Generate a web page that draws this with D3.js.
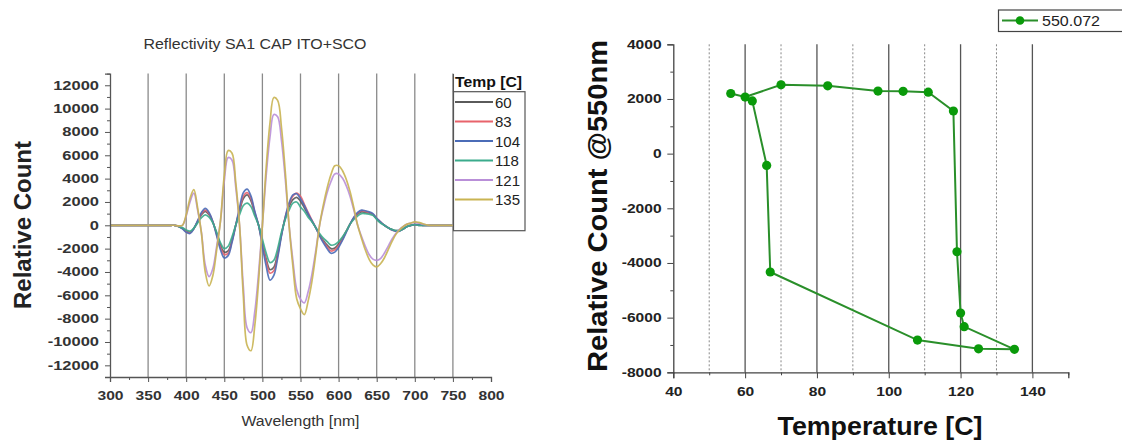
<!DOCTYPE html>
<html><head><meta charset="utf-8">
<script src="https://cdn.jsdelivr.net/npm/d3@7"></script>
<style>
body{margin:0;background:#fff}
svg{display:block;background:#fff}
text{font-family:"Liberation Sans",Arial,sans-serif}
</style>
</head><body>
<svg id="c" width="1122" height="442"></svg>
<script>
// ---------------- DATA ----------------
const wavelengths = [300,350,380,385,390,395,400,405,410,415,
  420,425,430,435,440,445,450,455,460,465,
  470,475,480,485,490,495,500,505,510,515,
  520,525,530,535,540,545,550,555,560,565,
  570,575,580,585,590,595,600,605,610,615,
  620,625,630,635,640,645,650,655,660,665,
  670,675,680,685,690,695,700,705,710,715,
  720,730,750];

const spec60 = [0,0,0,0,-100,-250,-500,-600,-250,300,
  900,1200,900,250,-700,-1700,-2300,-2200,-1300,0,
  1200,2300,2600,2100,1000,0,-1500,-2900,-3800,-3600,
  -2400,-800,600,1600,2200,2400,2070,1500,900,350,
  -200,-800,-1300,-1700,-2000,-1950,-1600,-1100,-500,100,
  600,950,1150,1100,1050,900,550,250,0,-200,
  -350,-450,-450,-300,-100,0,50,0,0,0,
  0,0,0];
const spec83 = [0,0,0,0,-100,-250,-550,-650,-300,350,
  1000,1300,1000,300,-800,-1900,-2500,-2400,-1400,0,
  1300,2500,2800,2300,1100,0,-1600,-3100,-4100,-3900,
  -2600,-800,700,1800,2500,2750,2480,1800,1100,450,
  -200,-850,-1400,-1850,-2200,-2100,-1750,-1200,-550,100,
  650,1050,1250,1200,1100,950,600,300,0,-200,
  -400,-500,-450,-300,-100,0,50,50,0,0,
  0,0,0];
const spec104 = [0,0,0,0,-100,-300,-600,-700,-300,400,
  1100,1450,1100,300,-900,-2100,-2800,-2600,-1500,0,
  1500,2800,3100,2500,1200,0,-1800,-3500,-4700,-4300,
  -2800,-900,700,1900,2600,2700,2280,1700,1000,400,
  -200,-900,-1500,-2000,-2400,-2300,-1900,-1300,-600,100,
  700,1100,1300,1250,1150,1000,600,300,0,-200,
  -400,-500,-500,-300,-100,0,50,50,0,0,
  0,0,0];
const spec118 = [0,0,0,0,-100,-200,-400,-500,-250,200,
  650,900,700,200,-600,-1500,-2000,-1800,-1000,0,
  900,1700,1900,1600,800,0,-1200,-2400,-3200,-3000,
  -2000,-600,500,1300,1900,2000,1560,1200,700,300,
  -200,-700,-1100,-1400,-1700,-1650,-1400,-1000,-500,100,
  500,800,1000,1000,950,850,500,200,0,-200,
  -350,-450,-450,-300,-100,0,50,0,0,0,
  0,0,0];
const spec121 = [0,0,0,0,-50,0,800,2000,2750,1300,
  -600,-3400,-4400,-3700,-1800,350,3800,5800,5600,3300,
  0,-5300,-8800,-9200,-7400,-4100,0,4300,7600,9500,
  9300,7300,4000,0,-3000,-5500,-6330,-6650,-5700,-4200,
  -2200,0,1500,2800,3750,4400,4400,4050,3400,2500,
  1300,0,-950,-1800,-2500,-2900,-3000,-2850,-2400,-1800,
  -1200,-700,-350,-100,100,200,250,200,100,50,
  0,0,0];
const spec135 = [0,0,0,0,-50,0,900,2300,3050,1500,
  -700,-4000,-5200,-4300,-2100,400,4300,6400,6200,3700,
  0,-6100,-10300,-10750,-8600,-4800,0,5000,8800,10950,
  10700,8400,4600,0,-3500,-6300,-7160,-7650,-6500,-4800,
  -2500,0,1750,3200,4350,5100,5100,4700,3950,2900,
  1500,0,-1100,-2100,-2900,-3400,-3570,-3300,-2800,-2100,
  -1400,-800,-400,-100,100,200,300,250,150,50,
  0,0,0];

const tempLabels = ["60","83","104","118","121","135"];
const tempColors = ["#5a5a5a","#e8636b","#4b6cb7","#3bab8c","#b98fd8","#c9b452"];
const spectra = [spec60, spec83, spec104, spec118, spec121, spec135];

const leftXTicks = [300,350,400,450,500,550,600,650,700,750,800];
const leftYTicks = [-12000,-10000,-8000,-6000,-4000,-2000,0,2000,4000,6000,8000,10000,12000];
const leftGrid = [350,400,450,500,550,600,650,700,750];

// hysteresis data at 550 nm
const hysTemp  = [56,60,70,83,97,104,111,118,119,120,121,135,125,108,67,66,62];
const hysCount = [2200,2070,2520,2480,2290,2280,2250,1560,-3590,-5830,-6330,-7160,-7140,-6820,-4330,-430,1930];
const rightXTicks = [40,60,80,100,120,140];
const rightYTicks = [-8000,-6000,-4000,-2000,0,2000,4000];
const rightGridSolid = [60,80,100,120,140];
const rightGridDash = [50,70,90,110,130];
const seriesName = "550.072";

// ---------------- DRAW ----------------
const svg = d3.select("#c");
svg.append("rect").attr("width",1122).attr("height",442).attr("fill","#fff");

// ===== LEFT CHART =====
const L = svg.append("g");
const xL = d3.scaleLinear().domain([300,800]).range([110,491]);
const yL = d3.scaleLinear().domain([-13000,13000]).range([377,73.6]);

L.selectAll("line.grid").data(leftGrid).join("line")
  .attr("x1",d=>xL(d)).attr("x2",d=>xL(d)).attr("y1",73.6).attr("y2",377)
  .attr("stroke","#8a8a8a").attr("stroke-width",1.3);

const lineL = d3.line().x((d,i)=>xL(wavelengths[i])).y(d=>yL(d)).curve(d3.curveCatmullRom.alpha(0.5));
spectra.forEach((s,k)=>{
  L.append("path").datum(s).attr("d",lineL).attr("fill","none")
   .attr("stroke",tempColors[k]).attr("stroke-width",1.7).attr("stroke-opacity",0.9);
});

function stretchTicks(g, sx){
  g.selectAll(".tick text").attr("transform",`scale(${sx},1)`);
}
const axLX = L.append("g").attr("transform","translate(0,377)")
  .call(d3.axisBottom(xL).tickValues(leftXTicks).tickSize(5).tickPadding(9).tickFormat(d=>String(d)));
L.append("g").attr("transform","translate(0,377)")
  .call(d3.axisBottom(xL).tickValues(d3.range(325,800,50)).tickSize(3).tickFormat(""))
  .call(g=>g.select(".domain").remove());
const axLY = L.append("g").attr("transform","translate(110,0)")
  .call(d3.axisLeft(yL).tickValues(leftYTicks).tickSize(5).tickPadding(3.3).tickFormat(d=>String(d)));
L.append("g").attr("transform","translate(110,0)")
  .call(d3.axisLeft(yL).tickValues(d3.range(-13000,13001,2000)).tickSize(3).tickFormat(""))
  .call(g=>g.select(".domain").remove());
[axLX,axLY].forEach(g=>{
  g.select(".domain").attr("stroke","#555").attr("stroke-width",1.3);
  g.selectAll(".tick text").attr("font-size",12.5).attr("font-weight","bold").attr("fill","#333");
});
L.selectAll(".tick line").attr("stroke","#555");
L.selectAll("path.domain").attr("stroke","#555");
stretchTicks(axLX,1.25); stretchTicks(axLY,1.32);

L.append("text").attr("x",255).attr("y",49).attr("text-anchor","middle")
  .attr("font-size",14).attr("fill","#333").attr("textLength",223).attr("lengthAdjust","spacingAndGlyphs")
  .text("Reflectivity SA1 CAP ITO+SCO");
L.append("text").attr("x",300.5).attr("y",426).attr("text-anchor","middle")
  .attr("font-size",14).attr("fill","#333").attr("textLength",118).attr("lengthAdjust","spacingAndGlyphs")
  .text("Wavelength [nm]");
L.append("text").attr("transform","translate(31,225) rotate(-90)").attr("text-anchor","middle")
  .attr("font-size",24).attr("font-weight","bold").attr("fill","#222")
  .attr("textLength",168).attr("lengthAdjust","spacingAndGlyphs")
  .text("Relative Count");

// legend
const lg = L.append("g");
lg.append("rect").attr("x",453.5).attr("y",91.7).attr("width",71.5).attr("height",139)
  .attr("fill","#fff").attr("stroke","#555").attr("stroke-width",1.2);
lg.append("line").attr("x1",453.5).attr("x2",453.5).attr("y1",74).attr("y2",92)
  .attr("stroke","#555").attr("stroke-width",1.2);
lg.append("rect").attr("x",454.2).attr("y",74).attr("width",70).attr("height",17).attr("fill","#fff");
lg.append("text").attr("x",455).attr("y",86.5).attr("font-size",14).attr("font-weight","bold")
  .attr("fill","#111").attr("textLength",67).attr("lengthAdjust","spacingAndGlyphs").text("Temp [C]");
tempLabels.forEach((t,i)=>{
  const yy = 102 + i*19.5;
  lg.append("line").attr("x1",455).attr("x2",493).attr("y1",yy).attr("y2",yy)
    .attr("stroke",tempColors[i]).attr("stroke-width",2);
  lg.append("text").attr("x",495).attr("y",yy+5.5).attr("font-size",15).attr("fill","#222").text(t);
});

// ===== RIGHT CHART =====
const R = svg.append("g");
const xR = d3.scaleLinear().domain([40,150]).range([673.3,1068.3]);
const yR = d3.scaleLinear().domain([-8000,4000]).range([372.3,44.3]);

R.selectAll("line.gs").data(rightGridSolid).join("line")
  .attr("x1",d=>xR(d)).attr("x2",d=>xR(d)).attr("y1",44.3).attr("y2",372.3)
  .attr("stroke","#555").attr("stroke-width",1.3);
R.selectAll("line.gd").data(rightGridDash).join("line")
  .attr("x1",d=>xR(d)).attr("x2",d=>xR(d)).attr("y1",44.3).attr("y2",372.3)
  .attr("stroke","#888").attr("stroke-width",1).attr("stroke-dasharray","2,2");

const axRX = R.append("g").attr("transform","translate(0,372.3)")
  .call(d3.axisBottom(xR).tickValues(rightXTicks).tickSize(6).tickPadding(9).tickFormat(d=>String(d)));
R.append("g").attr("transform","translate(0,372.3)")
  .call(d3.axisBottom(xR).tickValues([50,70,90,110,130,150]).tickSize(3).tickFormat(""))
  .call(g=>g.select(".domain").remove());
const axRY = R.append("g").attr("transform","translate(673.3,0)")
  .call(d3.axisLeft(yR).tickValues(rightYTicks).tickSize(6).tickPadding(3).tickFormat(d=>String(d)));
R.append("g").attr("transform","translate(673.3,0)")
  .call(d3.axisLeft(yR).tickValues([-7000,-5000,-3000,-1000,1000,3000]).tickSize(3).tickFormat(""))
  .call(g=>g.select(".domain").remove());
[axRX,axRY].forEach(g=>{
  g.select(".domain").attr("stroke","#444").attr("stroke-width",1.3);
  g.selectAll(".tick text").attr("font-size",12).attr("font-weight","bold").attr("fill","#222");
});
R.selectAll(".tick line").attr("stroke","#444");
R.selectAll("path.domain").attr("stroke","#444");
stretchTicks(axRX,1.3); stretchTicks(axRY,1.3);

const lineR = d3.line().x((d,i)=>xR(hysTemp[i])).y(d=>yR(d));
R.append("path").datum(hysCount).attr("d",lineR).attr("fill","none")
  .attr("stroke","#2a8f2a").attr("stroke-width",2);
R.selectAll("circle.pt").data(hysCount).join("circle")
  .attr("cx",(d,i)=>xR(hysTemp[i])).attr("cy",d=>yR(d)).attr("r",4.6)
  .attr("fill","#0a9a0a");

R.append("text").attr("x",880).attr("y",435).attr("text-anchor","middle")
  .attr("font-size",25).attr("font-weight","bold").attr("fill","#111")
  .attr("textLength",205).attr("lengthAdjust","spacingAndGlyphs").text("Temperature [C]");
R.append("text").attr("transform","translate(607,206) rotate(-90)").attr("text-anchor","middle")
  .attr("font-size",27).attr("font-weight","bold").attr("fill","#111")
  .attr("textLength",332).attr("lengthAdjust","spacingAndGlyphs").text("Relative Count @550nm");

const rl = R.append("g");
rl.append("rect").attr("x",998.5).attr("y",10).attr("width",130).attr("height",21.5)
  .attr("fill","#fff").attr("stroke","#444").attr("stroke-width",1.2);
rl.append("line").attr("x1",1002).attr("x2",1038).attr("y1",20.5).attr("y2",20.5)
  .attr("stroke","#2a8f2a").attr("stroke-width",2);
rl.append("circle").attr("cx",1020).attr("cy",20.5).attr("r",4.3).attr("fill","#0a9a0a");
rl.append("text").attr("x",1042).attr("y",26).attr("font-size",15).attr("fill","#222")
  .attr("textLength",58).attr("lengthAdjust","spacingAndGlyphs").text(seriesName);
</script>
</body></html>
